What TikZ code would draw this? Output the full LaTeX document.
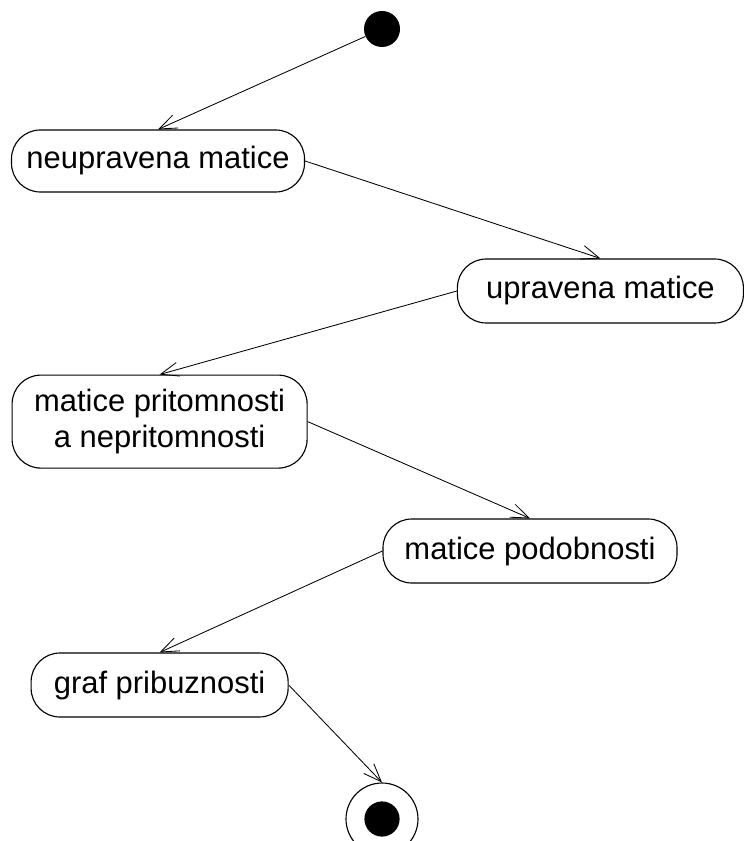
\documentclass[tikz,border=0pt]{standalone}
\usepackage{fontspec}
\setmainfont{Liberation Sans}
\usepackage{tikz}
\usetikzlibrary{arrows.meta}

\begin{document}
\begin{tikzpicture}
\tikzset{
  state/.style={draw,line width=0.8pt,rounded corners=0.72cm,align=center,
    font=\fontsize{22}{26}\selectfont,inner sep=0pt},
  flow/.style={line width=0.6pt,-{Straight Barb[length=4.5mm,width=3.5mm]}}
}

\useasboundingbox (0,0) rectangle (18.6,-21.025);

% start and end
\node (start) [circle,fill=black,minimum size=0.9cm,inner sep=0pt] at (9.55,-0.725) {};
\node (stop) [circle,draw,line width=0.8pt,minimum size=1.8cm,inner sep=0pt] at (9.55,-20.475) {};
\fill[black] (stop.center) circle (0.44cm);

% states
\node (neup) [state,minimum width=7.325cm,minimum height=1.55cm] at (3.95,-4.025) {neupravena matice};
\node (uprav) [state,minimum width=7.15cm,minimum height=1.6cm] at (15.01,-7.275) {upravena matice};
\node (pritom) [state,minimum width=7.375cm,minimum height=2.325cm] at (3.99,-10.54) {matice pritomnosti\\a nepritomnosti};
\node (podob) [state,minimum width=7.35cm,minimum height=1.6cm] at (13.25,-13.775) {matice podobnosti};
\node (graf) [state,minimum width=6.425cm,minimum height=1.6cm] at (3.99,-17.125) {graf pribuznosti};

% transitions
\draw [flow] (start) -- (neup.north);
\draw [flow] (neup.east) -- (uprav.north);
\draw [flow] (uprav.west) -- (pritom.north);
\draw [flow] (pritom.east) -- (podob.north);
\draw [flow] (podob.west) -- (graf.north);
\draw [flow] (graf.east) -- (stop.north);

\end{tikzpicture}
\end{document}
